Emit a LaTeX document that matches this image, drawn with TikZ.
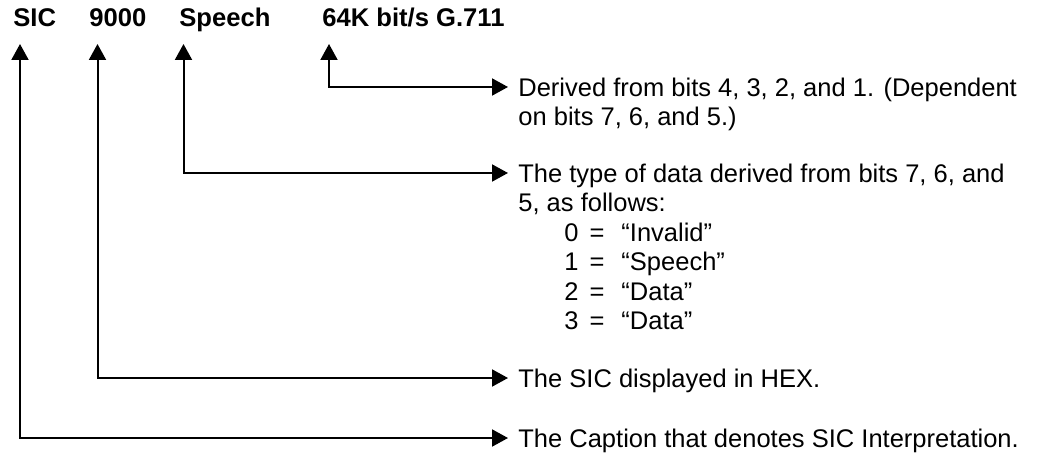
\documentclass[tikz,border=0pt]{standalone}
\usepackage{fontspec}
\setmainfont{Liberation Sans}
\usetikzlibrary{arrows.meta}

\begin{document}
\begin{tikzpicture}[x=0.5pt, y=0.5pt, >={Triangle[length=8pt,width=8.5pt]},
	hdr/.style={font=\fontsize{12.8}{15}\selectfont\bfseries, inner sep=0pt, anchor=base west},
	desc/.style={font=\fontsize{12.75}{14.75}\selectfont, inner sep=0pt, text height=9.1pt, text depth=0pt},
	link/.style={<->, line width=1pt, shorten >=5pt}]
	\useasboundingbox (0,0) rectangle (1053,-454);
	% header line
	\node[hdr] (sic) at (13,-27) {SIC};
	\node[hdr] (num) at (89,-27) {9000};
	\node[hdr] (typ) at (179,-27) {Speech};
	\node[hdr] (rate) at (322,-27) {64K bit/s G.711};
	\coordinate (sicT) at ([shift={(7,-17)}]sic.base west);
	\coordinate (numT) at ([shift={(8.5,-17)}]num.base west);
	\coordinate (typT) at ([shift={(4.5,-17)}]typ.base west);
	\coordinate (rateT) at ([shift={(7,-17)}]rate.base west);
	% explanations
	\node[desc, anchor=west] (der1) at (518,-87) {Derived from bits 4, 3, 2, and 1. (Dependent};
	\node[desc, anchor=base west] (der2) at ([yshift=-14.75pt]der1.base west) {on bits 7, 6, and 5.)};
	\node[desc, anchor=west] (kind1) at (518,-173) {The type of data derived from bits 7, 6, and};
	\node[desc, anchor=base west] (kind2) at ([yshift=-14.75pt]kind1.base west) {5, as follows:};
	\node[desc, anchor=base west] (val0) at ([xshift=23pt,yshift=-14.75pt]kind2.base west) {0\hspace{5.5pt}=\hspace{8.5pt}“Invalid”};
	\node[desc, anchor=base west] (val1) at ([yshift=-14.75pt]val0.base west) {1\hspace{5.5pt}=\hspace{8.5pt}“Speech”};
	\node[desc, anchor=base west] (val2) at ([yshift=-14.75pt]val1.base west) {2\hspace{5.5pt}=\hspace{8.5pt}“Data”};
	\node[desc, anchor=base west] (val3) at ([yshift=-14.75pt]val2.base west) {3\hspace{5.5pt}=\hspace{8.5pt}“Data”};
	\node[desc, anchor=west] (hex) at (518,-378) {The SIC displayed in HEX.};
	\node[desc, anchor=west] (capt) at (518,-438) {The Caption that denotes SIC Interpretation.};
	% pointers
	\draw[link] (rateT) |- (der1.west);
	\draw[link] (typT) |- (kind1.west);
	\draw[link] (numT) |- (hex.west);
	\draw[link] (sicT) |- (capt.west);
\end{tikzpicture}
\end{document}
